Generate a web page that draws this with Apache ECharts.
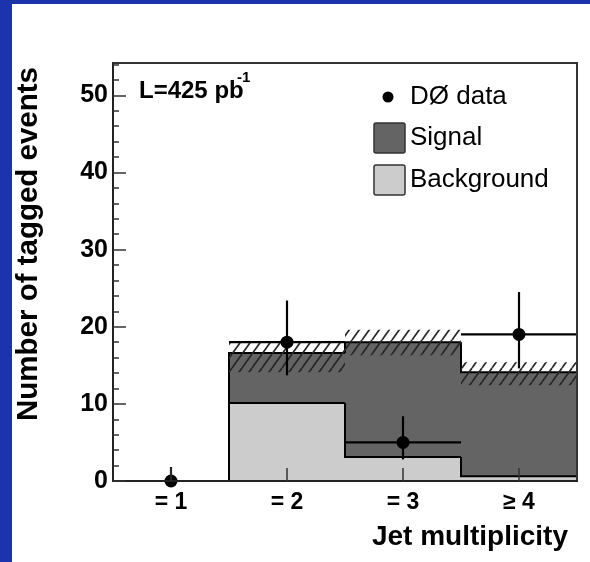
<!DOCTYPE html>
<html>
<head>
<meta charset="utf-8">
<script src="https://cdn.jsdelivr.net/npm/echarts@6/dist/echarts.min.js"></script>
<style>
  html, body { margin: 0; padding: 0; width: 590px; height: 562px; background: #1b33ad; overflow: hidden; }
  #chart { position: absolute; left: 12px; top: 4px; width: 578px; height: 558px; background: #ffffff; }
</style>
</head>
<body>
<div id="chart"></div>
<script>
// ---- data ----
const categories = ['= 1', '= 2', '= 3', '\u2265 4'];
const background = [0, 10.1, 3.1, 0.6];
const signal = [0, 6.5, 14.9, 13.5];
const bandLow = [0, 14.1, 16.3, 12.4];
const bandHigh = [0, 18.1, 19.6, 15.4];
const dataValues = [0, 18, 5, 19];
const dataErrLow = [0, 13.7, 2.8, 14.6];
const dataErrHigh = [1.8, 23.4, 8.4, 24.5];
const yMajorTicks = [0, 10, 20, 30, 40, 50];

const total = background.map((b, i) => b + signal[i]);
const FONT = "'Liberation Sans', Arial, Helvetica, sans-serif";

function hatchPattern() {
  const w = 10, h = 14;
  const c = document.createElement('canvas');
  c.width = w; c.height = h;
  const g = c.getContext('2d');
  g.strokeStyle = '#262626';
  g.lineWidth = 1.7;
  for (const o of [-w, 0, w]) {
    g.beginPath(); g.moveTo(o, h); g.lineTo(o + w, 0); g.stroke();
  }
  return c;
}
const hatch = { image: hatchPattern(), repeat: 'repeat' };

function fillBand(low, high, color) {
  return function (params, api) {
    const i = params.dataIndex;
    if (high[i] <= low[i]) return null;
    const w = api.size([1, 0])[0];
    const top = api.coord([i, high[i]]);
    const bot = api.coord([i, low[i]]);
    return {
      type: 'rect',
      shape: { x: top[0] - w / 2, y: top[1], width: w, height: bot[1] - top[1] },
      style: { fill: color, stroke: null }
    };
  };
}

function stepOutline(levels) {
  return function (params, api) {
    const i = params.dataIndex;
    const w = api.size([1, 0])[0];
    const c = api.coord([i, levels[i]]);
    const p = api.coord([i, i > 0 ? levels[i - 1] : 0]);
    return {
      type: 'polyline',
      shape: { points: [[c[0] - w / 2, p[1]], [c[0] - w / 2, c[1]], [c[0] + w / 2, c[1]]] },
      style: { stroke: '#000', lineWidth: 2, fill: null }
    };
  };
}

function dataPoint(params, api) {
  const i = params.dataIndex;
  const w = api.size([1, 0])[0];
  const c = api.coord([i, dataValues[i]]);
  const lo = api.coord([i, dataErrLow[i]]);
  const hi = api.coord([i, dataErrHigh[i]]);
  return {
    type: 'group',
    children: [
      { type: 'line', shape: { x1: c[0], y1: lo[1], x2: c[0], y2: hi[1] }, style: { stroke: '#000', lineWidth: 2.2 } },
      { type: 'line', shape: { x1: c[0] - w / 2, y1: c[1], x2: c[0] + w / 2, y2: c[1] }, style: { stroke: '#000', lineWidth: 2.2 } },
      { type: 'circle', shape: { cx: c[0], cy: c[1], r: 6.5 }, style: { fill: '#000' } }
    ]
  };
}

const idx = categories.map((c, i) => [i, 0]);
const zeros = categories.map(() => 0);

const chart = echarts.init(document.getElementById('chart'), null, { renderer: 'canvas' });
chart.setOption({
  animation: false,
  backgroundColor: '#ffffff',
  grid: { left: 101, top: 59, right: 13, bottom: 81, show: true, z: 10, borderColor: '#333', borderWidth: 2, backgroundColor: 'transparent' },
  xAxis: [{
    type: 'category',
    data: categories,
    boundaryGap: true,
    z: 10,
    axisLine: { show: true, lineStyle: { color: '#222', width: 2 } },
    axisTick: { show: true, inside: true, alignWithLabel: true, length: 13, lineStyle: { color: '#333', width: 1.5 } },
    axisLabel: { margin: 10, color: '#000', fontFamily: FONT, fontWeight: 'bold', fontSize: 23 },
    splitLine: { show: false },
    name: 'Jet multiplicity',
    nameLocation: 'end',
    nameGap: -9,
    nameTextStyle: { align: 'right', verticalAlign: 'top', padding: [42, 0, 0, 0], color: '#000', fontFamily: FONT, fontWeight: 'bold', fontSize: 28 }
  }],
  yAxis: [{
    type: 'value', min: 0, max: 54.2, interval: 10, position: 'left', z: 10,
    axisLine: { show: true, lineStyle: { color: '#222', width: 2 } },
    axisTick: { show: true, inside: true, length: 13, lineStyle: { color: '#333', width: 1.5 } },
    axisLabel: { margin: 5, color: '#000', fontFamily: FONT, fontWeight: 'bold', fontSize: 25,
      formatter: v => (yMajorTicks.indexOf(v) >= 0 ? String(v) : '') },
    splitLine: { show: false }
  }, {
    type: 'value', min: 0, max: 54.2, interval: 2, position: 'left', z: 10,
    axisLine: { show: false },
    axisTick: { show: true, inside: true, length: 6, lineStyle: { color: '#333', width: 1.5 } },
    axisLabel: { show: false },
    splitLine: { show: false }
  }],
  graphic: [
    { type: 'text', z: 20, x: 17, y: 240, rotation: Math.PI / 2,
      style: { text: 'Number of tagged events', x: 0, y: 0, textAlign: 'center', textVerticalAlign: 'middle', font: 'bold 29.5px ' + FONT, fill: '#000' } },
    { type: 'text', z: 20, style: { text: 'L=425 pb', x: 127, y: 87, textVerticalAlign: 'middle', font: 'bold 24px ' + FONT, fill: '#000' } },
    { type: 'text', z: 20, style: { text: '-1', x: 225, y: 74, textVerticalAlign: 'middle', font: 'bold 15px ' + FONT, fill: '#000' } },
    { type: 'circle', z: 20, shape: { cx: 376, cy: 93, r: 5.5 }, style: { fill: '#000' } },
    { type: 'text', z: 20, style: { text: 'D\u00D8 data', x: 398, y: 93, textVerticalAlign: 'middle', font: '26px ' + FONT, fill: '#000' } },
    { type: 'rect', z: 20, shape: { x: 362, y: 119, width: 31, height: 30, r: 2 }, style: { fill: '#646464', stroke: '#333', lineWidth: 1.5 } },
    { type: 'text', z: 20, style: { text: 'Signal', x: 398, y: 134, textVerticalAlign: 'middle', font: '26px ' + FONT, fill: '#000' } },
    { type: 'rect', z: 20, shape: { x: 362, y: 161, width: 31, height: 30, r: 2 }, style: { fill: '#cccccc', stroke: '#333', lineWidth: 1.5 } },
    { type: 'text', z: 20, style: { text: 'Background', x: 398, y: 176, textVerticalAlign: 'middle', font: '26px ' + FONT, fill: '#000' } }
  ],
  series: [
    { name: 'Background', type: 'custom', z: 2, data: idx, encode: { x: 0, y: 1 }, renderItem: fillBand(zeros, background, '#cccccc') },
    { name: 'Signal', type: 'custom', z: 2, data: idx, encode: { x: 0, y: 1 }, renderItem: fillBand(background, total, '#646464') },
    { name: 'Background outline', type: 'custom', z: 3, data: idx, encode: { x: 0, y: 1 }, renderItem: stepOutline(background) },
    { name: 'Signal outline', type: 'custom', z: 3, data: idx, encode: { x: 0, y: 1 }, renderItem: stepOutline(total) },
    { name: 'Uncertainty', type: 'custom', z: 4, data: idx, encode: { x: 0, y: 1 }, renderItem: fillBand(bandLow, bandHigh, hatch) },
    { name: 'D\u00D8 data', type: 'custom', z: 5, data: idx, encode: { x: 0, y: 1 }, renderItem: dataPoint }
  ]
});
</script>
</body>
</html>
